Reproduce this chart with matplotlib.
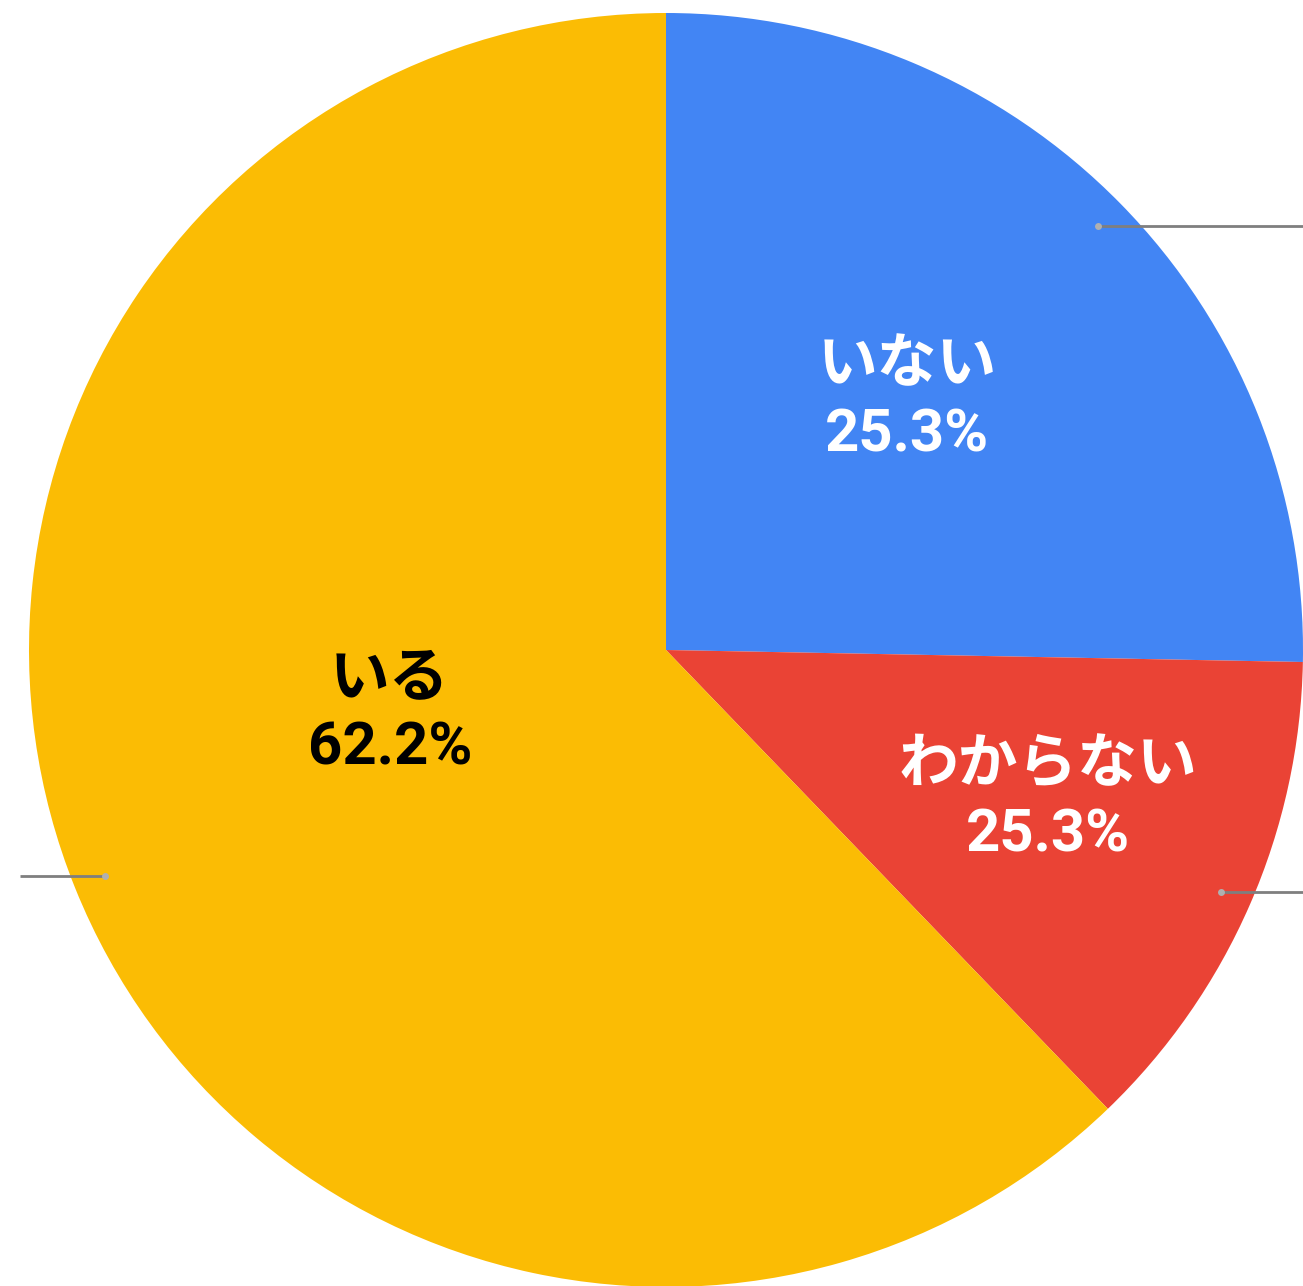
import numpy as np
import matplotlib
matplotlib.use("Agg")
import matplotlib.pyplot as plt

categories = ["いない", "わからない", "いる"]
values = [25.3, 12.5, 62.2]
label_pcts = ["25.3%", "25.3%", "62.2%"]
colors = ["#4285F4", "#EA4335", "#FBBC04"]
text_colors = ["white", "white", "black"]

W, H = 1303, 1286
fig = plt.figure(figsize=(W / 100, H / 100), dpi=100)
ax = fig.add_axes([0, 0, 1, 1])

cx, cy, R = 666, H - 650, 637
wedges, _ = ax.pie(values, colors=colors, startangle=90, counterclock=False,
                   center=(cx, cy), radius=R, wedgeprops=dict(linewidth=0))

# label placement (radius fraction, angle offset in degrees from slice middle)
label_pos = [(0.545, 1.5), (0.645, 2.0), (0.445, -9.0)]
side = [1, 1, -1]

fonts = ["Roboto", "Noto Sans CJK JP", "DejaVu Sans"]
for w, cat, pct, tc, (rf, dang), sd in zip(wedges, categories, label_pcts,
                                           text_colors, label_pos, side):
    mid = np.deg2rad((w.theta1 + w.theta2) / 2)
    # leader line
    px = cx + 0.95 * R * np.cos(mid)
    py = cy + 0.95 * R * np.sin(mid)
    xend = W + 5 if sd > 0 else 20
    ax.plot([px, xend], [py, py], color="#7f7f7f", lw=2, solid_capstyle="butt", zorder=3)
    ax.plot([px], [py], marker="o", ms=5, color="#b0b0b0", mec="none", zorder=4)
    a = mid + np.deg2rad(dang)
    tx = cx + rf * R * np.cos(a)
    ty = cy + rf * R * np.sin(a)
    ax.text(tx, ty, f"{cat}\n{pct}", ha="center", va="center", color=tc,
            fontsize=43, fontweight="bold", family=fonts, linespacing=1.3,
            zorder=5)

ax.set_xlim(0, W)
ax.set_ylim(0, H)
ax.set_aspect("equal")
ax.axis("off")
fig.savefig("out.png", dpi=100)
